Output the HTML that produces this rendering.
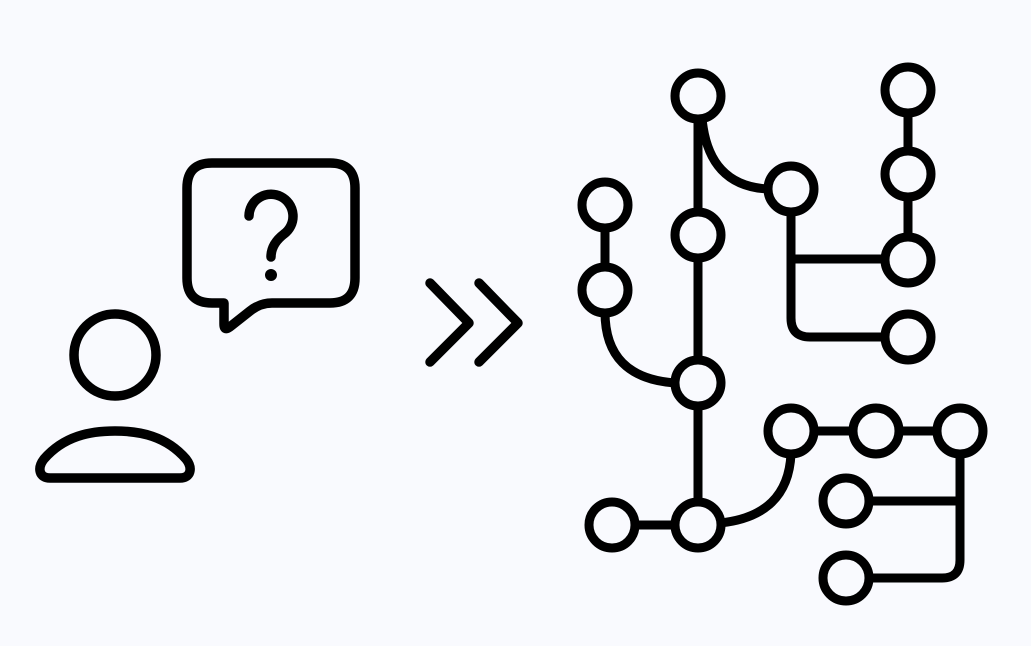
<!DOCTYPE html>
<html><head><style>html,body{margin:0;padding:0;background:#f9fafe;}svg{display:block}</style></head>
<body>
<svg width="1031" height="646" viewBox="0 0 1031 646" xmlns="http://www.w3.org/2000/svg">
<rect width="1031" height="646" fill="#f9fafe"/>
<g fill="none" stroke="#000" stroke-width="9.5" stroke-linecap="round" stroke-linejoin="round">
  <!-- person -->
  <circle cx="115" cy="355" r="41"/>
  <path d="M50,478 C39,478 37,468 44,459 C64,436 90,431 115,431 C140,431 166,436 186,459 C193,468 191,478 180,478 Z"/>
  <!-- bubble -->
  <path d="M212,163 H330 Q355,163 355,188 V278 Q355,303 330,303 H272 Q260,303 250,311 L231,326 Q224,332 224,324 V303 H212 Q187,303 187,278 V188 Q187,163 212,163 Z"/>
  <path d="M249,216 A22,22 0 1 1 284,234 Q271,244 271,257"/>
  <!-- chevrons -->
  <path d="M430,283 L469,323 L430,362"/>
  <path d="M479,283 L518,323 L479,362"/>
</g>
<circle cx="271" cy="275" r="6" fill="#000"/>
<g fill="none" stroke="#000" stroke-width="9" stroke-linecap="round" stroke-linejoin="round">
  <!-- edges -->
  <line x1="698" y1="96" x2="698" y2="525"/>
  <path d="M702,118 Q708,186 768,189"/>
  <path d="M791,189 V318 Q791,337 810,337 H908"/>
  <line x1="791" y1="259" x2="908" y2="259"/>
  <line x1="908" y1="90" x2="908" y2="260"/>
  <line x1="605" y1="205" x2="605" y2="290"/>
  <path d="M605,312 Q605,378 675,383"/>
  <line x1="612" y1="525" x2="698" y2="525"/>
  <path d="M720,523 Q788,516 791,454"/>
  <line x1="791" y1="431" x2="960" y2="431"/>
  <path d="M960,431 V560 Q960,578 942,578 H846"/>
  <line x1="846" y1="501" x2="960" y2="501"/>
</g>
<g fill="#f9fafe" stroke="#000" stroke-width="9">
  <circle cx="698" cy="96" r="23"/>
  <circle cx="698" cy="235" r="23"/>
  <circle cx="791" cy="189" r="23"/>
  <circle cx="605" cy="205" r="23"/>
  <circle cx="605" cy="290" r="23"/>
  <circle cx="698" cy="383" r="23"/>
  <circle cx="698" cy="525" r="23"/>
  <circle cx="612" cy="525" r="23"/>
  <circle cx="791" cy="431" r="23"/>
  <circle cx="876" cy="431" r="23"/>
  <circle cx="960" cy="431" r="23"/>
  <circle cx="846" cy="501" r="23"/>
  <circle cx="846" cy="578" r="23"/>
  <circle cx="908" cy="90" r="23"/>
  <circle cx="908" cy="174" r="23"/>
  <circle cx="908" cy="260" r="23"/>
  <circle cx="908" cy="337" r="23"/>
</g>
</svg>
</body></html>
